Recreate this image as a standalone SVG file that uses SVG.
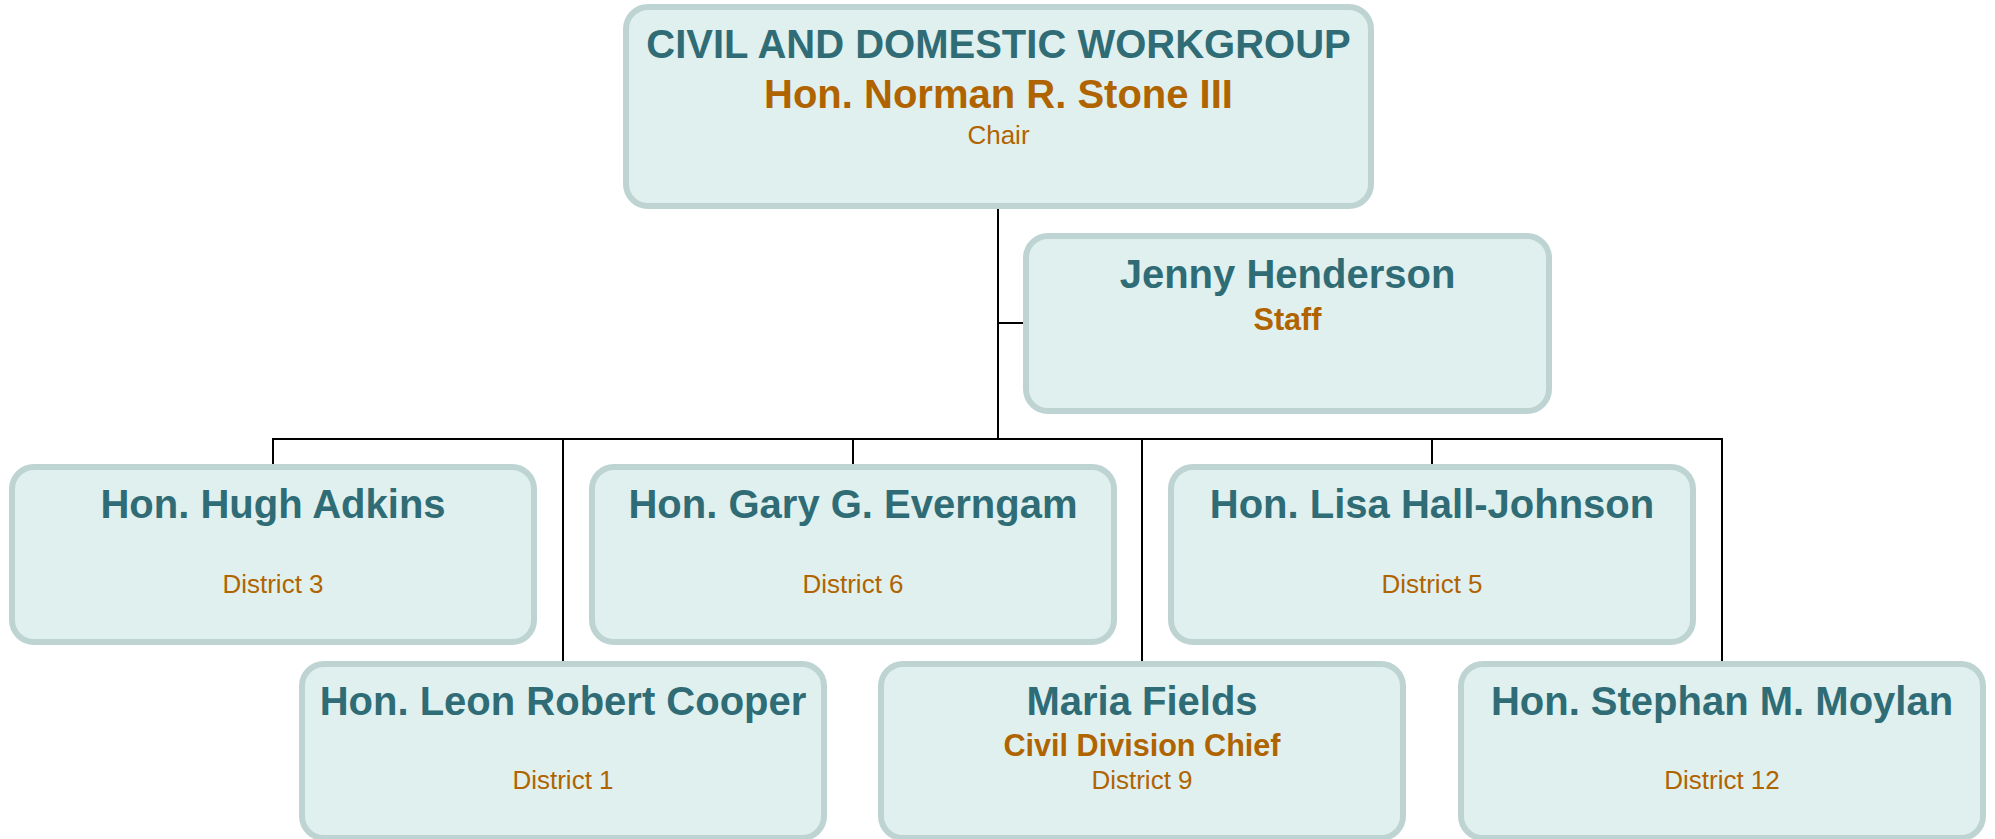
<svg xmlns="http://www.w3.org/2000/svg" width="1995" height="839" viewBox="0 0 1995 839">
<style>
.box{fill:#e0f0ef;stroke:#bed4d3;stroke-width:6}
.name{font-family:"Liberation Sans",Arial,sans-serif;font-weight:bold;font-size:40px;fill:#2f6c75;text-anchor:middle}
.role{font-family:"Liberation Sans",Arial,sans-serif;font-weight:bold;font-size:30.6px;fill:#b06400;text-anchor:middle}
.big{font-family:"Liberation Sans",Arial,sans-serif;font-weight:bold;font-size:40px;fill:#b06400;text-anchor:middle}
.sub{font-family:"Liberation Sans",Arial,sans-serif;font-size:26px;fill:#b06400;text-anchor:middle}
.conn{stroke:#000;stroke-width:2;fill:none}
</style>
<rect width="1995" height="839" fill="#ffffff"/>
<g id="connectors">
<path class="conn" d="M998,206 V439"/>
<path class="conn" d="M998,323 H1026"/>
<path class="conn" d="M273,467 V439 H1722 V664"/>
<path class="conn" d="M563,439 V664"/>
<path class="conn" d="M853,439 V467"/>
<path class="conn" d="M1142,439 V664"/>
<path class="conn" d="M1432,439 V467"/>
</g>
<g id="chair">
<rect class="box" x="626" y="7" width="745" height="199" rx="22"/>
<text class="name" x="998.5" y="58">CIVIL AND DOMESTIC WORKGROUP</text>
<text class="big" x="998.5" y="108">Hon. Norman R. Stone III</text>
<text class="sub" x="998.5" y="144">Chair</text>
</g>
<g id="henderson">
<rect class="box" x="1026" y="236" width="523" height="175" rx="22"/>
<text class="name" x="1287.5" y="288">Jenny Henderson</text>
<text class="role" x="1287.5" y="330">Staff</text>
</g>
<g id="adkins">
<rect class="box" x="12" y="467" width="522" height="175" rx="22"/>
<text class="name" x="273" y="518">Hon. Hugh Adkins</text>
<text class="sub" x="273" y="593">District 3</text>
</g>
<g id="everngam">
<rect class="box" x="592" y="467" width="522" height="175" rx="22"/>
<text class="name" x="853" y="518">Hon. Gary G. Everngam</text>
<text class="sub" x="853" y="593">District 6</text>
</g>
<g id="hall-johnson">
<rect class="box" x="1171" y="467" width="522" height="175" rx="22"/>
<text class="name" x="1432" y="518">Hon. Lisa Hall-Johnson</text>
<text class="sub" x="1432" y="593">District 5</text>
</g>
<g id="cooper">
<rect class="box" x="302" y="664" width="522" height="174" rx="22"/>
<text class="name" x="563" y="715">Hon. Leon Robert Cooper</text>
<text class="sub" x="563" y="789">District 1</text>
</g>
<g id="fields">
<rect class="box" x="881" y="664" width="522" height="174" rx="22"/>
<text class="name" x="1142" y="715">Maria Fields</text>
<text class="role" x="1142" y="756">Civil Division Chief</text>
<text class="sub" x="1142" y="789">District 9</text>
</g>
<g id="moylan">
<rect class="box" x="1461" y="664" width="522" height="174" rx="22"/>
<text class="name" x="1722" y="715">Hon. Stephan M. Moylan</text>
<text class="sub" x="1722" y="789">District 12</text>
</g>
</svg>
